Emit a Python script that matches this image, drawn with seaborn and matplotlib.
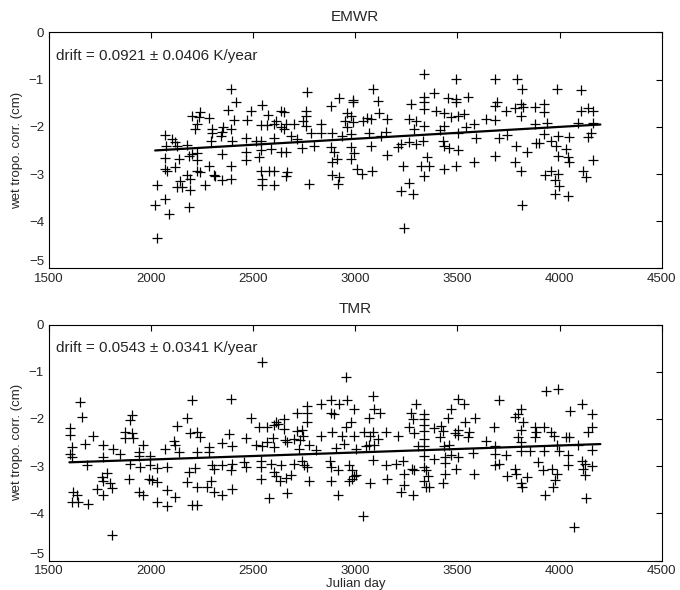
import numpy as np
import pandas as pd
import seaborn as sns
import matplotlib.pyplot as plt

# EMWR wet tropospheric correction
emwr_day = [2392, 2418, 2376, 2545, 2487, 2635, 2651, 2574, 2201, 2238, 2233, 2286, 2405, 2471, 2610,
            2602, 2536, 2569, 2659, 2700, 2225, 2217, 2299, 2353, 2389, 2635, 2651, 2348, 2299, 2340,
            2070, 2103, 2119, 2176, 2075, 2127, 2291, 2397, 2463, 2512, 2536, 2602, 2684, 2716, 2201,
            2225, 2348, 2463, 2536, 2585, 2635, 2659, 2070, 2135, 2184, 2225, 2463, 2528, 2070, 2119,
            2225, 2283, 2389, 2078, 2176, 2242, 2307, 2315, 2348, 2389, 2536, 2577, 2602, 2667, 2659,
            2545, 2193, 2143, 2029, 2127, 2152, 2193, 2266, 2545, 2602, 2070, 2021, 2086, 2184, 2029,
            3338, 3493, 2765, 3089, 2920, 2991, 2991, 3112, 3387, 3452, 3493, 3493, 3338, 3338, 3272,
            2883, 2761, 2757, 2745, 2761, 2834, 2958, 2978, 2948, 2991, 3040, 3059, 3076, 3117, 3154,
            2958, 3338, 3395, 3436, 3469, 3501, 3264, 3297, 3338, 3289, 3416, 3436, 2781, 2830, 2888,
            2937, 2978, 3068, 3150, 3125, 3501, 2740, 2797, 2879, 2896, 2978, 2994, 3076, 3154, 3207,
            3223, 3264, 3297, 3330, 3428, 3436, 3461, 3501, 2888, 2912, 2978, 3351, 3321, 3362, 3236,
            3436, 3493, 3007, 3035, 3084, 2888, 2920, 2773, 2916, 3334, 3264, 3223, 3281, 3240,
            3682, 3793, 3816, 3989, 4107, 3551, 3531, 3695, 3682, 3736, 3780, 3813, 3821, 3813, 3878,
            3924, 3924, 4104, 4137, 4165, 3543, 3583, 3641, 3682, 3881, 3940, 4091, 4165, 3592, 3706,
            3744, 3924, 3993, 4045, 4137, 4156, 3788, 3842, 3886, 3898, 3960, 3985, 4034, 3993, 4042,
            4045, 3583, 3682, 3780, 3813, 4165, 3927, 3960, 3993, 3976, 3996, 3976, 4042, 4116, 4132,
            3816]
emwr_wet = [-1.19, -1.47, -1.64, -1.54, -1.66, -1.66, -1.68, -1.75, -1.78, -1.69, -1.80, -1.81, -1.85, -1.85, -1.87,
            -1.94, -1.96, -1.96, -1.95, -1.95, -1.94, -2.05, -2.05, -2.01, -2.05, -2.01, -2.05, -2.10, -2.12, -2.19,
            -2.17, -2.26, -2.33, -2.38, -2.41, -2.41, -2.31, -2.31, -2.24, -2.31, -2.31, -2.24, -2.20, -2.26, -2.57,
            -2.55, -2.57, -2.54, -2.48, -2.47, -2.54, -2.54, -2.67, -2.68, -2.61, -2.71, -2.71, -2.64, -2.89, -2.85,
            -2.93, -2.82, -2.83, -2.93, -3.02, -2.96, -3.03, -3.04, -3.12, -3.10, -2.93, -2.93, -2.93, -2.96, -3.04,
            -3.10, -3.10, -3.14, -3.23, -3.28, -3.28, -3.33, -3.23, -3.24, -3.23, -3.52, -3.66, -3.84, -3.70, -4.35,
            -0.89, -0.98, -1.27, -1.19, -1.38, -1.43, -1.48, -1.46, -1.29, -1.38, -1.40, -1.47, -1.36, -1.48, -1.52,
            -1.55, -1.66, -1.77, -1.87, -1.98, -1.93, -1.71, -1.77, -1.87, -1.89, -1.87, -1.82, -1.84, -1.71, -1.84,
            -2.01, -1.62, -1.66, -1.71, -1.80, -1.77, -1.84, -1.87, -1.98, -2.05, -2.06, -1.98, -2.13, -2.13, -2.13,
            -2.20, -2.15, -2.13, -2.10, -2.19, -2.13, -2.45, -2.41, -2.43, -2.54, -2.43, -2.55, -2.40, -2.59, -2.43,
            -2.36, -2.33, -2.36, -2.31, -2.29, -2.41, -2.45, -2.48, -2.75, -2.68, -2.69, -2.64, -2.82, -2.82, -2.82,
            -2.89, -2.82, -2.90, -3.00, -2.93, -3.02, -3.07, -3.21, -3.22, -3.05, -3.19, -3.35, -3.42, -4.15,
            -0.99, -0.99, -1.19, -1.19, -1.22, -1.36, -1.73, -1.47, -1.55, -1.66, -1.61, -1.52, -1.59, -1.78, -1.57,
            -1.52, -1.68, -1.66, -1.61, -1.66, -2.01, -1.95, -1.84, -1.85, -1.94, -1.92, -1.92, -1.92, -2.24, -2.24,
            -2.17, -2.15, -2.19, -2.22, -2.22, -2.13, -2.41, -2.54, -2.34, -2.34, -2.31, -2.41, -2.47, -2.62, -2.64,
            -2.74, -2.74, -2.62, -2.74, -2.93, -2.71, -3.03, -2.93, -2.99, -3.12, -3.26, -3.42, -3.47, -2.93, -3.07,
            -3.65]

# TMR wet tropospheric correction
tmr_day = [1652, 1660, 2201, 2392, 1898, 1906, 2176, 2127, 1603, 1603, 1873, 1906, 1873, 1911, 1718,
           1677, 1767, 1816, 1849, 1960, 1939, 2070, 2111, 2119, 2135, 2192, 2225, 2241, 2225, 2283,
           2283, 2348, 2381, 2397, 1611, 1603, 1611, 1767, 1939, 1996, 1898, 1685, 1947, 1996, 2029,
           2078, 2184, 2217, 2299, 2307, 2348, 2397, 2389, 1783, 1759, 1767, 1800, 1808, 1890, 1988,
           2004, 2029, 2078, 2176, 2225, 2274, 2291, 2310, 2348, 2397, 1734, 1767, 1619, 1636, 1939,
           1960, 2119, 1611, 1644, 1693, 2029, 2078, 2201, 2225, 1810,
           2544, 2954, 3085, 3297, 2834, 2880, 2921, 2959, 2765, 2765, 2716, 2883, 2896, 2995, 3093,
           3122, 3068, 3273, 3281, 2487, 2610, 2651, 2765, 2978, 2954, 2528, 2569, 2602, 2621, 2651,
           2716, 2741, 2831, 2888, 2937, 2995, 3044, 3089, 3150, 3073, 3207, 3264, 3289, 2467, 2512,
           2544, 2598, 2602, 2569, 2654, 2664, 2700, 2729, 2746, 2774, 2724, 2806, 2905, 2945, 3003,
           3052, 3068, 3093, 3109, 3306, 2454, 2463, 2536, 2536, 2539, 2585, 2602, 2610, 2634, 2684,
           2659, 2631, 2700, 2741, 2749, 2765, 2774, 2877, 2883, 2916, 2880, 2970, 2986, 2995, 3003,
           2986, 2970, 3089, 3150, 3199, 3232, 3240, 3276, 3289, 3073, 3155, 3240, 3224, 3281, 2577,
           2664, 2916, 3036,
           3936, 3993, 3502, 3532, 3702, 3469, 4108, 4050, 4160, 3813, 3797, 3780, 3821, 3453, 3538,
           3587, 3338, 3338, 3338, 3338, 3387, 3420, 3428, 3486, 3505, 3505, 3555, 3551, 3679, 3813,
           3879, 3887, 3924, 3960, 3973, 3879, 4034, 4046, 4141, 4160, 3338, 3417, 3461, 3641, 3682,
           3797, 3813, 3338, 3433, 3813, 3854, 3924, 3996, 3990, 4091, 4160, 3338, 3387, 3437, 3437,
           3469, 3502, 3576, 3682, 3739, 3682, 3702, 3895, 4042, 4042, 4108, 4124, 4157, 3338, 3347,
           3355, 3494, 3437, 3581, 3780, 3789, 3744, 3843, 3919, 3964, 3990, 3977, 4116, 4127, 3428,
           3338, 3347, 3363, 3810, 3816, 3969, 3931, 4132, 4070]
tmr_wet = [-1.64, -1.97, -1.60, -1.57, -2.02, -1.92, -1.99, -2.16, -2.20, -2.35, -2.27, -2.30, -2.41, -2.41, -2.37,
           -2.53, -2.55, -2.64, -2.74, -2.55, -2.71, -2.64, -2.46, -2.55, -2.71, -2.30, -2.28, -2.39, -2.71, -2.60,
           -2.71, -2.50, -2.32, -2.57, -2.60, -2.74, -2.81, -2.81, -2.78, -2.79, -2.95, -2.97, -3.02, -2.97, -3.04,
           -3.02, -3.13, -3.04, -2.97, -3.06, -2.97, -2.95, -3.09, -3.14, -3.23, -3.32, -3.35, -3.47, -3.27, -3.27,
           -3.30, -3.34, -3.51, -3.34, -3.44, -3.44, -3.32, -3.54, -3.62, -3.48, -3.48, -3.62, -3.54, -3.61, -3.54,
           -3.61, -3.66, -3.77, -3.75, -3.80, -3.77, -3.85, -3.83, -3.83, -4.45,
           -0.80, -1.12, -1.51, -1.69, -1.69, -1.60, -1.69, -1.60, -1.72, -1.88, -1.88, -1.88, -1.90, -1.79, -1.79,
           -1.88, -1.99, -1.88, -2.00, -1.99, -2.07, -2.00, -2.07, -2.06, -2.18, -2.18, -2.18, -2.13, -2.11, -2.21,
           -2.25, -2.23, -2.37, -2.28, -2.37, -2.36, -2.28, -2.27, -2.27, -2.36, -2.37, -2.18, -2.30, -2.41, -2.55,
           -2.58, -2.41, -2.60, -2.49, -2.44, -2.48, -2.43, -2.44, -2.36, -2.55, -2.64, -2.65, -2.62, -2.53, -2.64,
           -2.58, -2.55, -2.55, -2.43, -2.57, -2.92, -3.02, -2.90, -3.02, -3.27, -2.95, -3.13, -3.20, -2.97, -3.18,
           -3.26, -3.32, -2.95, -2.90, -2.97, -3.02, -3.32, -2.90, -3.02, -3.09, -3.32, -2.97, -3.09, -3.21, -3.18,
           -3.27, -3.32, -2.88, -2.97, -2.95, -2.90, -3.16, -3.06, -3.09, -3.35, -3.28, -3.40, -3.55, -3.62, -3.68,
           -3.58, -3.62, -4.05,
           -1.41, -1.36, -1.58, -1.69, -1.60, -1.79, -1.69, -1.83, -1.90, -1.79, -1.90, -1.97, -2.06, -1.99, -2.06,
           -1.99, -1.90, -2.00, -2.13, -2.25, -2.20, -2.16, -2.25, -2.30, -2.23, -2.34, -2.27, -2.39, -2.18, -2.23,
           -2.18, -2.27, -2.18, -2.28, -2.37, -2.39, -2.39, -2.39, -2.28, -2.18, -2.43, -2.39, -2.55, -2.46, -2.58,
           -2.39, -2.48, -2.58, -2.58, -2.69, -2.69, -2.67, -2.67, -2.55, -2.55, -2.65, -2.78, -2.85, -2.81, -2.93,
           -2.76, -2.81, -2.72, -2.74, -2.76, -2.97, -2.95, -2.92, -2.76, -2.97, -2.90, -2.95, -3.00, -3.02, -3.09,
           -3.20, -3.07, -3.16, -3.16, -3.06, -3.16, -3.21, -3.23, -3.09, -3.06, -3.16, -3.30, -3.06, -3.18, -3.35,
           -3.32, -3.44, -3.44, -3.35, -3.44, -3.44, -3.62, -3.68, -4.28]

# fitted drift lines: (first day, last day, value at first day, drift per year)
emwr_fit = (2020, 4200, -2.50, 0.0921)
tmr_fit = (1600, 4200, -2.92, 0.0543)
emwr_label = "drift = 0.0921 \u00b1 0.0406 K/year"
tmr_label = "drift = 0.0543 \u00b1 0.0341 K/year"

sns.set_style("white")
plt.rcParams['font.family'] = ['Liberation Sans', 'DejaVu Sans']
plt.rcParams['axes.unicode_minus'] = True

fig = plt.figure(figsize=(6.8, 5.9), dpi=100)
ax1 = fig.add_axes([0.072, 0.545, 0.901, 0.400])
ax2 = fig.add_axes([0.072, 0.05, 0.901, 0.400])

panels = [(ax1, emwr_day, emwr_wet, emwr_fit, emwr_label, "EMWR"),
          (ax2, tmr_day, tmr_wet, tmr_fit, tmr_label, "TMR")]

for ax, days, wet, fit, label, title in panels:
    df = pd.DataFrame({"day": days, "wet": wet})
    sns.scatterplot(data=df, x="day", y="wet", ax=ax, marker="+", color="black",
                    s=55, linewidth=0.9)
    d0, d1, v0, drift = fit
    fx = np.array([d0, d1])
    ax.plot(fx, v0 + drift / 365.25 * (fx - d0), color="black", lw=1.6)
    ax.text(0.012, 0.9, label, transform=ax.transAxes, fontsize=11, va="center")
    ax.set_title(title, fontsize=11, pad=8)
    ax.set_xlim(1500, 4500)
    ax.set_ylim(-5, 0)
    ax.set_xticks(range(1500, 4501, 500))
    ax.set_yticks(range(-5, 1))
    ax.tick_params(direction="in", top=True, right=True, length=4, labelsize=9.5, color="black")
    ax.tick_params(axis="x", pad=3)
    # lift the bottom y label a bit so it clears "1500", like the original
    ax.get_yticklabels()[0].set_va("bottom")
    for sp in ax.spines.values():
        sp.set_color("black")
        sp.set_linewidth(0.8)
    ax.set_ylabel("wet tropo. corr. (cm)", fontsize=9.5)
    ax.set_xlabel("")

ax2.set_xlabel("Julian day", fontsize=9.5, labelpad=1)

fig.savefig("out.png", dpi=100)
